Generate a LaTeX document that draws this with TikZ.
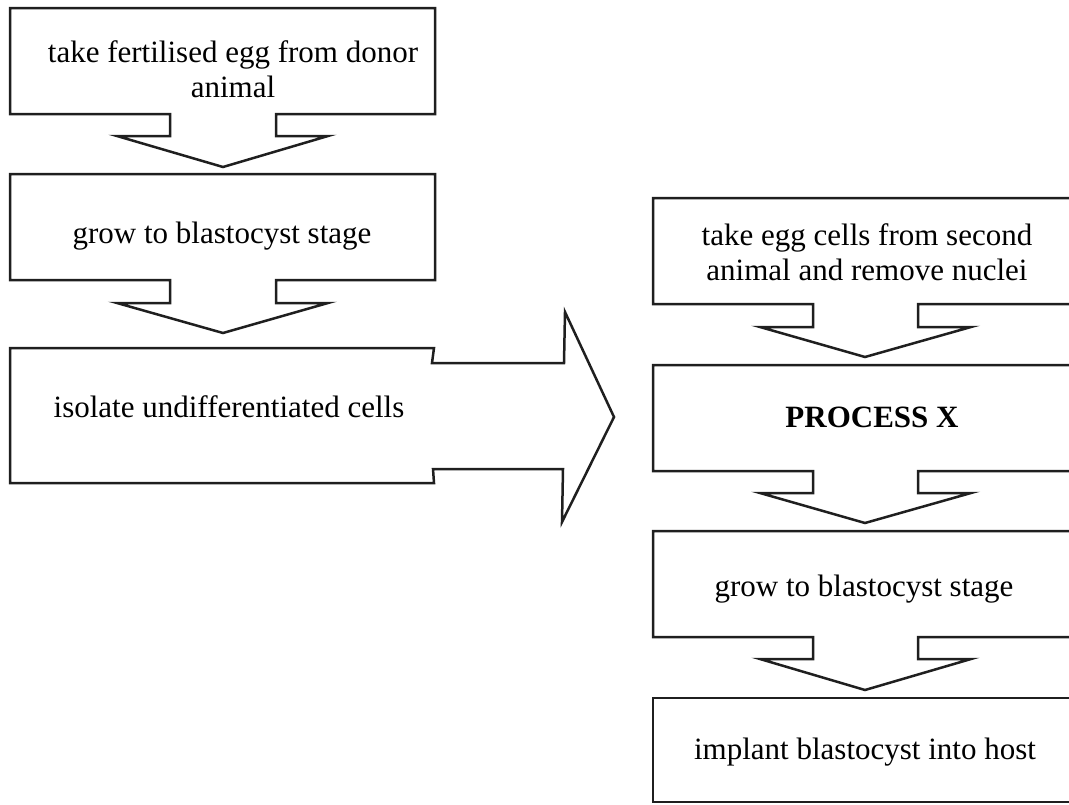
\documentclass[tikz,border=0pt]{standalone}
\usepackage{fontspec}
\setmainfont{Liberation Serif}
\begin{document}
\begin{tikzpicture}[x=1pt,y=-1pt,
  shapeline/.style={draw=black!88,line width=2.5pt,line join=miter},
  label/.style={inner sep=0pt,anchor=base,align=center,font=\fontsize{31}{34.5}\selectfont}]
\useasboundingbox (0,0) rectangle (1069,804);
\begin{scope}
\clip (0,0) rectangle (1069,804);
% left column
\draw[shapeline] (10,8) -- (435,8) -- (435,114) -- (276,114) -- (276,136) -- (328,136) -- (223,167) -- (117,136) -- (170,136) -- (170,114) -- (10,114) -- cycle;
\draw[shapeline] (10,174) -- (435,174) -- (435,280) -- (276,280) -- (276,303) -- (328,303) -- (223,333) -- (117,303) -- (170,303) -- (170,280) -- (10,280) -- cycle;
\draw[shapeline] (10,348) -- (434,348) -- (432,363) -- (564,363) -- (565,312) -- (614,417) -- (562,522) -- (563,469) -- (433,469) -- (434,483) -- (10,483) -- cycle;
% right column
\draw[shapeline] (653,198) -- (1077,198) -- (1077,304) -- (918,304) -- (918,327) -- (971,327) -- (865,357) -- (760,327) -- (813,327) -- (813,304) -- (653,304) -- cycle;
\draw[shapeline] (653,365) -- (1077,365) -- (1077,471) -- (918,471) -- (918,493) -- (971,493) -- (865,523) -- (760,493) -- (813,493) -- (813,471) -- (653,471) -- cycle;
\draw[shapeline] (653,531) -- (1077,531) -- (1077,637) -- (918,637) -- (918,659) -- (971,659) -- (865,690) -- (760,659) -- (813,659) -- (813,637) -- (653,637) -- cycle;
\draw[shapeline] (653,698) rectangle (1077,802);
\end{scope}
% texts
\node[label] (n1) at (233,97) {take fertilised egg from donor\\animal};
\node[label] (n2) at (222,243) {grow to blastocyst stage};
\node[label] (n3) at (229,417) {isolate undifferentiated cells};
\node[label,font=\fontsize{31}{35}\selectfont] (m1) at (867,280) {take egg cells from second\\animal and remove nuclei};
\node[label,font=\fontsize{31}{34}\selectfont\bfseries] (m2) at (872,427) {PROCESS X};
\node[label] (m3) at (864,596) {grow to blastocyst stage};
\node[label] (m4) at (865,759) {implant blastocyst into host};
\end{tikzpicture}
\end{document}
